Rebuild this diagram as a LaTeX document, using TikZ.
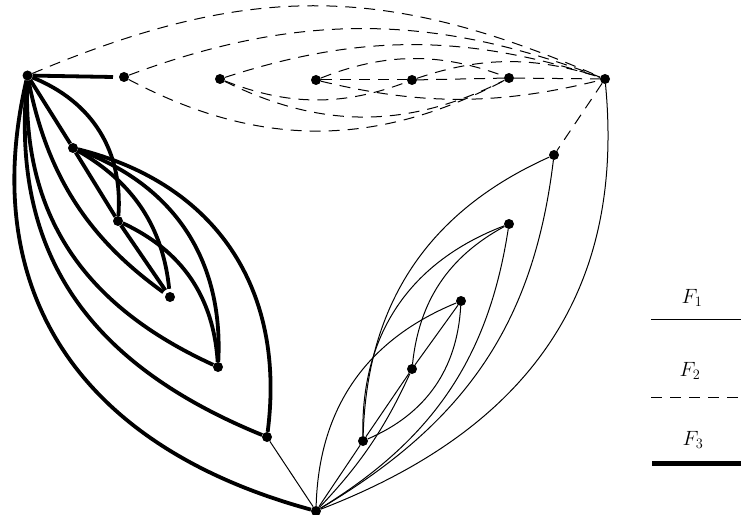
\documentclass[tikz,border=0pt]{standalone}
\usetikzlibrary{calc}
% arc-like edge: #1 style, #2 from, #3 to, #4 signed sag in bp (positive: left of travel),
% #5, #6 extra handle reach at the start and at the end (sharper tips)
\newcommand\lensedge[6]{%
  \draw[#1] let \p1=($(#3)-(#2)$), \n1={veclen(\x1,\y1)}, \n2={#4*1.333bp/\n1},
    \n3={scalar((1-(2*#4/\n1)*(2*#4/\n1))/3)}, \n5={scalar(\n3+#5)}, \n4={scalar(1-\n3-#6)} in
   (#2) .. controls ($(#2)!\n5!(#3)+({-\y1*\n2},{\x1*\n2})$) and ($(#2)!\n4!(#3)+({-\y1*\n2},{\x1*\n2})$) .. (#3);}
\begin{document}
\begin{tikzpicture}[x=1bp,y=-1bp,
  dot/.style={circle,fill=black,inner sep=0pt,minimum size=10bp},
  fone/.style={line width=1bp},
  ftwo/.style={line width=1bp,dash pattern=on 11bp off 8bp},
  fthree/.style={line width=3.8bp},
  lab/.style={font=\fontsize{22}{26}\selectfont,inner sep=0pt}]
\useasboundingbox (0,0) rectangle (741,515);
% vertices
\node[dot] (A) at (27.5,75.5) {};
\node[dot] (B) at (316,511) {};
\node[dot] (C) at (605,79) {};
\node[dot] (d1) at (124,77) {};
\node[dot] (d2) at (220,79) {};
\node[dot] (d3) at (316,80) {};
\node[dot] (d4) at (412,80) {};
\node[dot] (d5) at (509,78) {};
\node[dot] (t1) at (73,148) {};
\node[dot] (t2) at (118,221) {};
\node[dot] (t3) at (170,297) {};
\node[dot] (t4) at (218,367) {};
\node[dot] (t5) at (267,437) {};
\node[dot] (s1) at (363,441) {};
\node[dot] (s2) at (412,369) {};
\node[dot] (s3) at (461,301) {};
\node[dot] (s4) at (509,224) {};
\node[dot] (s5) at (554,155) {};
\coordinate (dend) at (113,77);
% F2 dashed
\lensedge{ftwo}{A}{C}{71}{.07}{.07}
\lensedge{ftwo}{d1}{C}{49}{.04}{.04}
\lensedge{ftwo}{d1}{d5}{-53}{.04}{.04}
\lensedge{ftwo}{d2}{C}{34}{.04}{.04}
\lensedge{ftwo}{d2}{d5}{-38}{.04}{.04}
\lensedge{ftwo}{d2}{d4}{-20}{.04}{.04}
\lensedge{ftwo}{d3}{C}{-19.5}{.04}{.04}
\lensedge{ftwo}{d3}{d5}{20}{.04}{.04}
\lensedge{ftwo}{d4}{C}{17.5}{.04}{.04}
\draw[ftwo] (d3) -- (d4);
\draw[ftwo] (d4) -- (d5);
\draw[ftwo] (d5) -- (C);
\draw[ftwo] (C) -- (s5);
% F3 thick
\draw[fthree] (A) -- (dend);
\draw[fthree] (A) -- (t1);
\draw[fthree] (t1) -- (t2);
\draw[fthree,shorten >=3bp] (t2) -- (t3);
\lensedge{fthree}{A}{B}{-121}{.03}{.09}
\lensedge{fthree}{A}{t5}{-83}{.03}{.09}
\lensedge{fthree}{A}{t4}{-60}{.03}{.07}
\lensedge{fthree,shorten >=3bp}{A}{t3}{-28}{.04}{.04}
\lensedge{fthree}{A}{t2}{31}{.04}{.04}
\lensedge{fthree}{t1}{t5}{74}{.04}{.05}
\lensedge{fthree}{t1}{t4}{48}{.04}{.04}
\lensedge{fthree,shorten >=3bp}{t1}{t3}{24}{.04}{.04}
\lensedge{fthree}{t2}{t4}{27}{.04}{.04}
% F1 thin
\draw[fone] (t5) -- (B);
\draw[fone] (B) -- (s1);
\draw[fone] (s1) -- (s2);
\draw[fone] (s2) -- (s3);
\lensedge{fone}{C}{B}{100}{.03}{.08}
\lensedge{fone}{s5}{B}{57}{.04}{.06}
\lensedge{fone}{s4}{B}{43}{.04}{.05}
\lensedge{fone}{B}{s3}{42}{.04}{.04}
\lensedge{fone}{B}{s2}{-8}{.04}{.04}
\lensedge{fone}{s1}{s3}{-27}{.04}{.04}
\lensedge{fone}{s1}{s5}{55}{.04}{.04}
\lensedge{fone}{s1}{s4}{46}{.04}{.04}
\lensedge{fone}{s2}{s4}{24}{.04}{.04}
% legend
\node[lab] (f1) at (692,298) {$F_1$};
\node[lab] (f2) at (690,371) {$F_2$};
\node[lab] (f3) at (693,440) {$F_3$};
\coordinate (a1) at (651,319); \coordinate (b1) at (741,319);
\coordinate (a2) at (651,397); \coordinate (b2) at (741,397);
\coordinate (a3) at (652,463); \coordinate (b3) at (741,463);
\draw[fone] (a1) -- (b1);
\draw[ftwo] (a2) -- (b2);
\draw[line width=5bp] (a3) -- (b3);
\end{tikzpicture}
\end{document}
